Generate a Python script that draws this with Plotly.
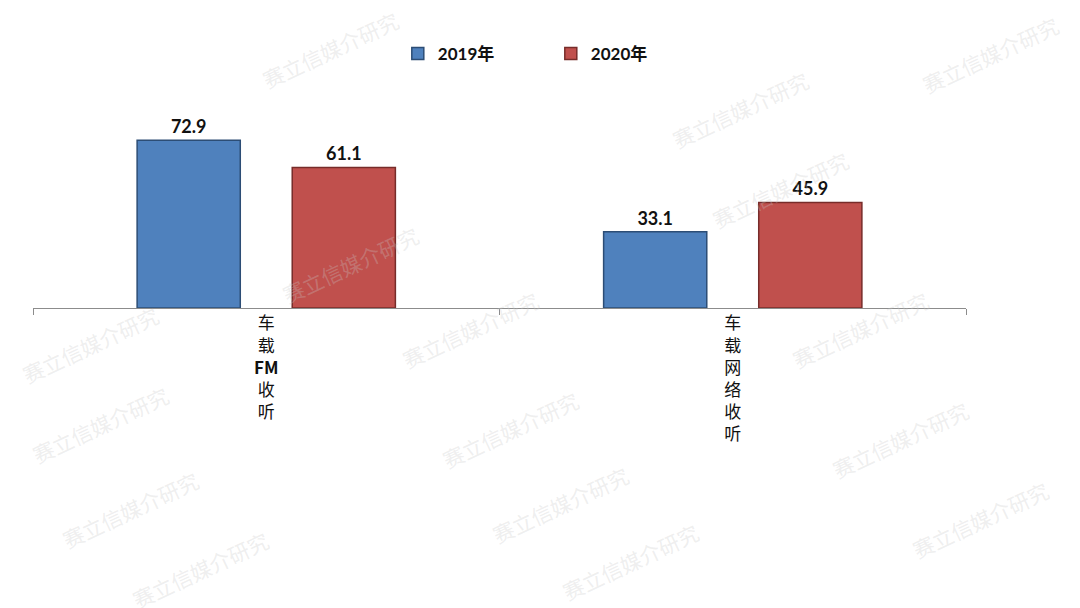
import plotly.graph_objects as go

categories = ["车载FM收听", "车载网络收听"]
series_names = ["2019年", "2020年"]
values_2019 = [72.9, 33.1]
values_2020 = [61.1, 45.9]
tick_labels = ["车<br>载<br><b>FM</b><br>收<br>听", "车<br>载<br>网<br>络<br>收<br>听"]
watermark_text = "赛立信媒介研究"

colors = ["#4F81BD", "#C0504D"]
edge_colors = ["#2C4D75", "#772C2A"]

fig = go.Figure()
for name, vals, c, ec in zip(series_names, [values_2019, values_2020], colors, edge_colors):
    fig.add_trace(go.Bar(
        x=categories, y=vals, name=name,
        marker=dict(color=c, line=dict(color=ec, width=1.5)),
        text=[f"{v:.1f}" for v in vals], textposition="outside",
        textfont=dict(family="Lato, Noto Sans CJK SC", size=18, color="#111111", weight="bold"),
        cliponaxis=False,
    ))

# plot area in page pixels (browser body adds an 8px offset)
off = 8
pl, pr, pt, pb = 33 - off, 966 - off, 101 - off, 308 - off

# faint watermarks (page-pixel centres)
wm_pos = [(330, 50), (740, 110), (990, 55), (90, 345), (860, 330),
          (470, 330), (100, 425), (900, 440), (510, 430), (130, 510), (560, 505),
          (200, 570), (630, 562), (980, 520), (780, 190), (350, 265)]
for (px, py) in wm_pos:
    fig.add_annotation(
        x=(px - off - pl) / (pr - pl), y=(pb - (py - off)) / (pb - pt),
        xref="paper", yref="paper", xanchor="center", yanchor="middle",
        text=watermark_text, showarrow=False, textangle=-25,
        font=dict(family="Noto Sans CJK SC", size=21, color="rgba(200,200,200,0.3)"),
    )

fig.update_layout(
    width=1080, height=608,
    margin=dict(l=pl, r=1080 - pr, t=pt, b=608 - pb),
    paper_bgcolor="white", plot_bgcolor="white",
    barmode="group", bargap=0.335, bargroupgap=0.335,
    showlegend=True,
    legend=dict(orientation="h", x=0.391, xanchor="left", y=1.227, yanchor="middle",
                font=dict(family="Lato, Noto Sans CJK SC", size=17, color="#111111", weight="bold"),
                entrywidth=108, itemwidth=30, bgcolor="rgba(0,0,0,0)"),
    font=dict(family="Noto Sans CJK SC"),
)
fig.update_xaxes(
    tickmode="array", tickvals=categories, ticktext=tick_labels,
    showline=True, linecolor="#8C8C8C", linewidth=1,
    ticks="outside", tickson="boundaries", ticklen=6, tickcolor="#8C8C8C",
    tickfont=dict(family="Noto Sans CJK SC", size=17, color="#111111"),
    showgrid=False,
)
fig.update_yaxes(range=[0, 90], visible=False, showgrid=False)

fig.write_html("out.html")
